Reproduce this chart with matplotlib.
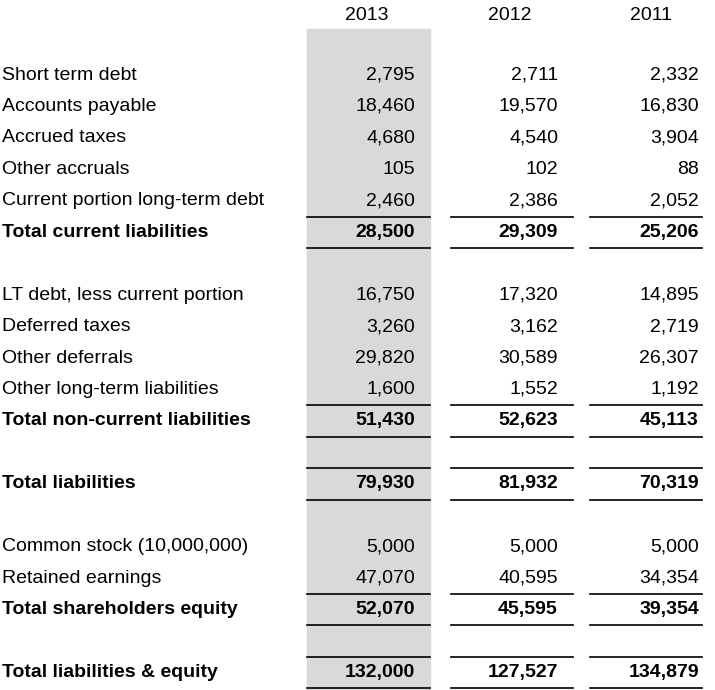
import matplotlib.pyplot as plt

years = ["2013", "2012", "2011"]

labels = [
    "Short term debt", "Accounts payable", "Accrued taxes", "Other accruals",
    "Current portion long-term debt", "Total current liabilities", "",
    "LT debt, less current portion", "Deferred taxes", "Other deferrals",
    "Other long-term liabilities", "Total non-current liabilities", "",
    "Total liabilities", "",
    "Common stock (10,000,000)", "Retained earnings", "Total shareholders equity", "",
    "Total liabilities & equity",
]
v2013 = ["2,795", "18,460", "4,680", "105", "2,460", "28,500", "",
         "16,750", "3,260", "29,820", "1,600", "51,430", "",
         "79,930", "", "5,000", "47,070", "52,070", "", "132,000"]
v2012 = ["2,711", "19,570", "4,540", "102", "2,386", "29,309", "",
         "17,320", "3,162", "30,589", "1,552", "52,623", "",
         "81,932", "", "5,000", "40,595", "45,595", "", "127,527"]
v2011 = ["2,332", "16,830", "3,904", "88", "2,052", "25,206", "",
         "14,895", "2,719", "26,307", "1,192", "45,113", "",
         "70,319", "", "5,000", "34,354", "39,354", "", "134,879"]
bold_rows = {5, 11, 13, 17, 19}

FONT = ["Liberation Sans", "DejaVu Sans"]
FS = 14

fig = plt.figure(figsize=(7.15, 6.9), dpi=100)
ax = fig.add_axes([0, 0, 1, 1])
ax.set_xlim(0, 715)
ax.set_ylim(690, 0)
ax.axis("off")

cols = [(307, 430, 415), (451, 573, 558), (590, 702, 699)]

ax.axvspan(cols[0][0], cols[0][1], ymin=0, ymax=1 - 29 / 690, color="#d9d9d9", zorder=0)

for (x0, x1, xr), y in zip(cols, years):
    ax.text(xr - 48, 15, y, ha="center", va="center", fontsize=FS, family=FONT)

y0 = 75
pitch = 31.45
for i, lab in enumerate(labels):
    y = y0 + i * pitch
    w = "bold" if i in bold_rows else "normal"
    ax.text(2, y, lab, ha="left", va="center", fontsize=FS, family=FONT, weight=w)
    for (x0, x1, xr), vals in zip(cols, [v2013, v2012, v2011]):
        ax.text(xr, y, vals[i], ha="right", va="center", fontsize=FS, family=FONT, weight=w)
    if i in bold_rows:
        for x0, x1, xr in cols:
            ax.plot([x0, x1], [y - pitch / 2, y - pitch / 2], color="black", lw=1.2)
            ax.plot([x0, x1], [y + pitch / 2, y + pitch / 2], color="black", lw=1.2)

fig.savefig("out.png", dpi=100)
